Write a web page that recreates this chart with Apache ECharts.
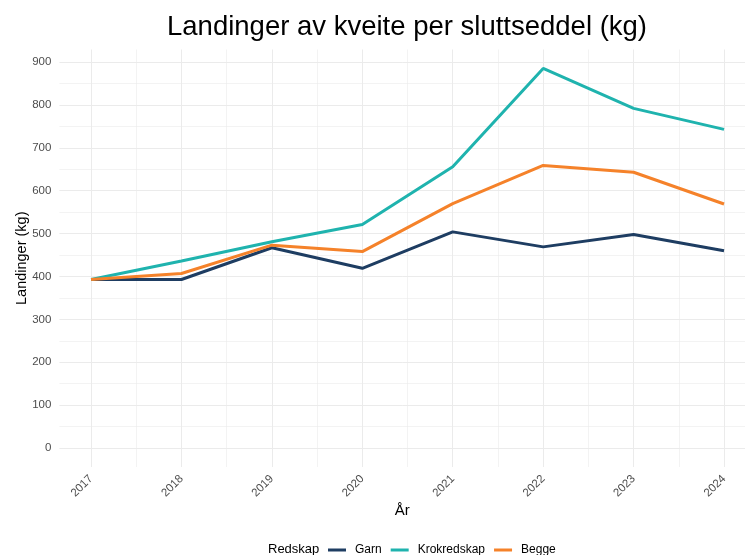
<!DOCTYPE html>
<html>
<head>
<meta charset="utf-8">
<script src="https://cdn.jsdelivr.net/npm/echarts@6/dist/echarts.min.js"></script>
<style>
  html, body { margin: 0; padding: 0; background: #fff; }
  #main { width: 745px; height: 555px; }
</style>
</head>
<body>
<div id="main"></div>
<script>
// data
var years = [2017, 2018, 2019, 2020, 2021, 2022, 2023, 2024];
var garn = [393, 393, 467, 419, 504, 469, 498, 460];
var krokredskap = [393, 436, 481, 521, 656, 885, 792, 743];
var begge = [393, 407, 473, 458, 570, 659, 643, 569];
var yTicks = [0, 100, 200, 300, 400, 500, 600, 700, 800, 900];
var yMinor = [50, 150, 250, 350, 450, 550, 650, 750, 850];
var xMinor = [2016.5, 2017.5, 2018.5, 2019.5, 2020.5, 2021.5, 2022.5, 2023.5];

function pairs(vals) {
    var out = [];
    for (var i = 0; i < years.length; i++) {
        out.push([years[i], vals[i]]);
    }
    return out;
}

var gridColor = '#ebebeb';
var font = 'Liberation Sans, Arial, sans-serif';
// panel runs past the right edge of the picture, so the x range is cut at the edge
var xMin = 2016.65, xMax = 2024.232;

var myChart = echarts.init(document.getElementById('main'));
var option = {
    backgroundColor: '#fff',
    animation: false,
    textStyle: { fontFamily: font },
    title: [{
        text: 'Landinger av kveite per sluttseddel (kg)',
        left: 407, top: 13, textAlign: 'center', padding: 0,
        textStyle: { fontSize: 27.5, fontWeight: 'normal', color: '#000', fontFamily: font }
    }, {
        text: 'Redskap',
        left: 268, top: 543, padding: 0,
        textStyle: { fontSize: 13, fontWeight: 'normal', color: '#000', fontFamily: font }
    }],
    legend: {
        left: 328, top: 544, padding: 0,
        itemWidth: 18, itemHeight: 3, itemGap: 9,
        icon: 'rect',
        textStyle: { fontSize: 12, color: '#000', fontFamily: font, padding: [0, 0, 0, 4] },
        data: ['Garn', 'Krokredskap', 'Begge']
    },
    grid: { left: 59.4, right: 0, top: 49.5, bottom: 88, containLabel: false },
    xAxis: [{
        type: 'value',
        min: xMin, max: xMax,
        name: 'År', nameLocation: 'middle', nameGap: 36, nameMoveOverlap: false,
        nameTextStyle: { fontSize: 15, color: '#000' },
        axisLine: { show: false },
        axisTick: { show: false, customValues: years },
        axisLabel: {
            customValues: years, rotate: 45, margin: 10,
            fontSize: 11.5, color: '#4d4d4d',
            formatter: function (v) { return String(v); }
        },
        splitLine: { show: true, lineStyle: { color: gridColor, width: 1 } }
    }, {
        type: 'value',
        min: xMin, max: xMax,
        position: 'bottom',
        axisLine: { show: false },
        axisTick: { show: false, customValues: xMinor },
        axisLabel: { show: false, customValues: xMinor },
        splitLine: { show: true, lineStyle: { color: gridColor, width: 0.6 } }
    }],
    yAxis: [{
        type: 'value',
        min: -44.25, max: 929.25,
        name: 'Landinger (kg)', nameLocation: 'middle', nameGap: 30, nameMoveOverlap: false,
        nameTextStyle: { fontSize: 14.5, color: '#000' },
        axisLine: { show: false },
        axisTick: { show: false, customValues: yTicks },
        axisLabel: { customValues: yTicks, margin: 8, fontSize: 11.5, color: '#4d4d4d' },
        splitLine: { show: true, lineStyle: { color: gridColor, width: 1 } }
    }, {
        type: 'value',
        min: -44.25, max: 929.25,
        position: 'left',
        axisLine: { show: false },
        axisTick: { show: false, customValues: yMinor },
        axisLabel: { show: false, customValues: yMinor },
        splitLine: { show: true, lineStyle: { color: gridColor, width: 0.6 } }
    }],
    series: [{
        name: 'Garn', type: 'line', data: pairs(garn),
        showSymbol: false, lineStyle: { width: 3, color: '#1e3d62' }, itemStyle: { color: '#1e3d62' }
    }, {
        name: 'Krokredskap', type: 'line', data: pairs(krokredskap),
        showSymbol: false, lineStyle: { width: 3, color: '#1fb3ae' }, itemStyle: { color: '#1fb3ae' }
    }, {
        name: 'Begge', type: 'line', data: pairs(begge),
        showSymbol: false, lineStyle: { width: 3, color: '#f5822a' }, itemStyle: { color: '#f5822a' }
    }]
};
myChart.setOption(option);
</script>
</body>
</html>
